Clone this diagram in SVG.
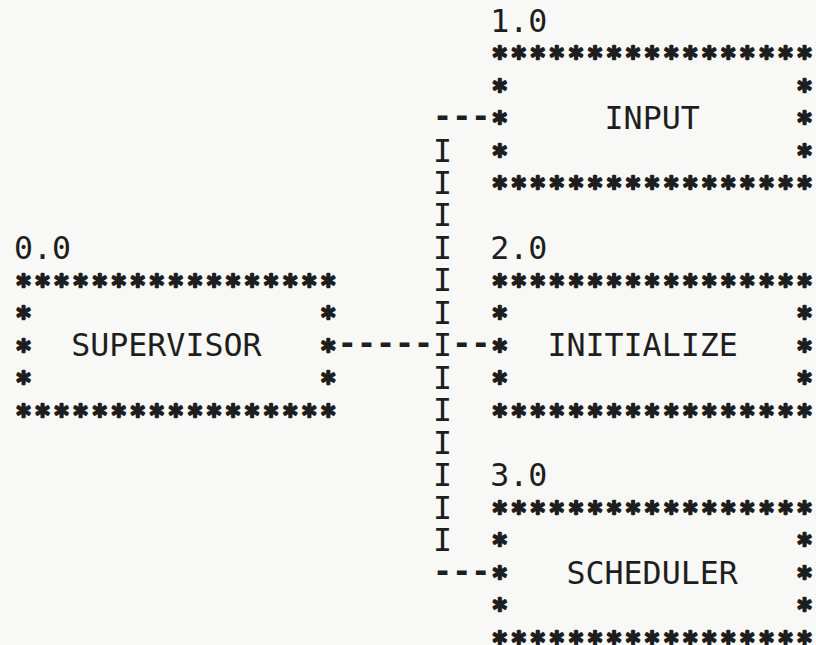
<svg xmlns="http://www.w3.org/2000/svg" width="816" height="645" viewBox="0 0 816 645">
<style>
text{font-family:"DejaVu Sans Mono","Liberation Mono",monospace;font-size:31.64px;fill:#1e1e1e}
.st{font-size:27.5px;stroke:#1e1e1e;stroke-width:2.6;stroke-linejoin:round}
.cn{font-weight:bold}
</style>
<rect width="816" height="645" fill="#f8f8f6"/>
<g id="connectors">
<text class="cn" x="433.1 452.15 471.2" y="126.9">---</text>
<text class="cn" x="337.85 356.9 375.95 395 414.05" y="354.2">-----</text>
<text class="cn" x="452.15 471.2" y="354.2">--</text>
<text class="cn" x="433.1 452.15 471.2" y="581.5">---</text>
<text x="433.1 433.1 433.1 433.1 433.1 433.1 433.1 433.1 433.1 433.1 433.1 433.1 433.1" y="161.5 194 226.4 258.9 291.4 323.8 356.3 388.8 421.2 453.7 486.2 518.7 551.1">IIIIIIIIIIIII</text>
</g>
<g id="node-0">
<text x="14" y="258.9">0.0</text>
<text class="st" x="15.22 34.27 53.32 72.37 91.42 110.47 129.52 148.57 167.62 186.67 205.72 224.77 243.82 262.87 281.92 300.97 320.02" y="294.7">*****************</text>
<text class="st" x="15.22" y="327.1">*</text>
<text class="st" x="320.02" y="327.1">*</text>
<text class="st" x="15.22" y="359.6">*</text>
<text class="st" x="320.02" y="359.6">*</text>
<text class="st" x="15.22" y="392.1">*</text>
<text class="st" x="320.02" y="392.1">*</text>
<text class="st" x="15.22 34.27 53.32 72.37 91.42 110.47 129.52 148.57 167.62 186.67 205.72 224.77 243.82 262.87 281.92 300.97 320.02" y="424.5">*****************</text>
<text x="71.15" y="356.3">SUPERVISOR</text>
</g>
<g id="node-1">
<text x="490.25" y="31.6">1.0</text>
<text class="st" x="491.47 510.52 529.57 548.62 567.67 586.72 605.77 624.82 643.87 662.92 681.97 701.02 720.07 739.12 758.17 777.22 796.27" y="67.4">*****************</text>
<text class="st" x="491.47" y="99.8">*</text>
<text class="st" x="796.27" y="99.8">*</text>
<text class="st" x="491.47" y="132.3">*</text>
<text class="st" x="796.27" y="132.3">*</text>
<text class="st" x="491.47" y="164.8">*</text>
<text class="st" x="796.27" y="164.8">*</text>
<text class="st" x="491.47 510.52 529.57 548.62 567.67 586.72 605.77 624.82 643.87 662.92 681.97 701.02 720.07 739.12 758.17 777.22 796.27" y="197.3">*****************</text>
<text x="604.55" y="129">INPUT</text>
</g>
<g id="node-2">
<text x="490.25" y="258.9">2.0</text>
<text class="st" x="491.47 510.52 529.57 548.62 567.67 586.72 605.77 624.82 643.87 662.92 681.97 701.02 720.07 739.12 758.17 777.22 796.27" y="294.7">*****************</text>
<text class="st" x="491.47" y="327.1">*</text>
<text class="st" x="796.27" y="327.1">*</text>
<text class="st" x="491.47" y="359.6">*</text>
<text class="st" x="796.27" y="359.6">*</text>
<text class="st" x="491.47" y="392.1">*</text>
<text class="st" x="796.27" y="392.1">*</text>
<text class="st" x="491.47 510.52 529.57 548.62 567.67 586.72 605.77 624.82 643.87 662.92 681.97 701.02 720.07 739.12 758.17 777.22 796.27" y="424.5">*****************</text>
<text x="547.4" y="356.3">INITIALIZE</text>
</g>
<g id="node-3">
<text x="490.25" y="486.2">3.0</text>
<text class="st" x="491.47 510.52 529.57 548.62 567.67 586.72 605.77 624.82 643.87 662.92 681.97 701.02 720.07 739.12 758.17 777.22 796.27" y="522">*****************</text>
<text class="st" x="491.47" y="554.4">*</text>
<text class="st" x="796.27" y="554.4">*</text>
<text class="st" x="491.47" y="586.9">*</text>
<text class="st" x="796.27" y="586.9">*</text>
<text class="st" x="491.47" y="619.4">*</text>
<text class="st" x="796.27" y="619.4">*</text>
<text class="st" x="491.47 510.52 529.57 548.62 567.67 586.72 605.77 624.82 643.87 662.92 681.97 701.02 720.07 739.12 758.17 777.22 796.27" y="651.8">*****************</text>
<text x="566.45" y="583.6">SCHEDULER</text>
</g>
</svg>
